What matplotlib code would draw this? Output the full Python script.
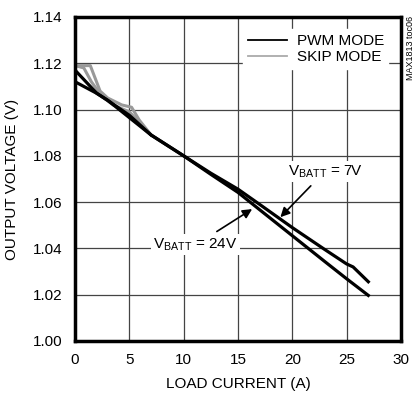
import matplotlib.pyplot as plt
from matplotlib.lines import Line2D

plt.rcParams['font.family'] = ['Liberation Sans', 'DejaVu Sans']
plt.rcParams['mathtext.fontset'] = 'custom'
plt.rcParams['mathtext.rm'] = 'Liberation Sans'

# PWM mode curves (black)
pwm7_x = [0, 1, 2, 3, 5, 7, 10, 12.5, 15, 17, 20, 23, 25, 25.6, 27]
pwm7_y = [1.112, 1.1095, 1.107, 1.104, 1.0975, 1.089, 1.080, 1.0725, 1.0656, 1.059, 1.049, 1.0395, 1.0333, 1.032, 1.0256]
pwm24_x = [0, 1, 2, 3, 5, 7, 10, 12.5, 15, 17, 20, 23, 25, 27]
pwm24_y = [1.117, 1.112, 1.107, 1.104, 1.0965, 1.089, 1.080, 1.072, 1.0642, 1.0567, 1.0455, 1.0343, 1.0269, 1.0197]

# SKIP mode curves (gray)
skipa_x = [0, 1.4, 2.3, 3.0, 4.3, 5.2, 5.9, 7]
skipa_y = [1.119, 1.119, 1.108, 1.105, 1.102, 1.101, 1.0955, 1.089]
skipb_x = [0, 0.8, 1.5, 2.5, 3.5, 5, 6, 7]
skipb_y = [1.119, 1.118, 1.112, 1.1055, 1.102, 1.099, 1.094, 1.089]

xticks = [0, 5, 10, 15, 20, 25, 30]
yticks = [1.00, 1.02, 1.04, 1.06, 1.08, 1.10, 1.12, 1.14]

fig = plt.figure(figsize=(4.15, 4.0), dpi=100)
ax = fig.add_axes([0.181, 0.1475, 0.785, 0.81])

ax.plot(skipa_x, skipa_y, color='#999999', lw=2.2)
ax.plot(skipb_x, skipb_y, color='#999999', lw=2.2)
ax.plot(pwm7_x, pwm7_y, color='black', lw=2.3)
ax.plot(pwm24_x, pwm24_y, color='black', lw=2.3)

ax.set_xlim(0, 30)
ax.set_ylim(1.00, 1.14)
ax.set_xticks(xticks)
ax.set_yticks(yticks)
ax.set_xticklabels([str(t) for t in xticks])
ax.set_yticklabels([f'{t:.2f}' for t in yticks])
ax.tick_params(length=0, labelsize=11, pad=9)
ax.grid(True, color='#444444', lw=0.9)
ax.set_axisbelow(True)
for s in ax.spines.values():
    s.set_linewidth(2.5)

ax.set_xlabel('LOAD CURRENT (A)', fontsize=11, labelpad=7)
ax.set_ylabel('OUTPUT VOLTAGE (V)', fontsize=11, labelpad=10)

# legend
handles = [Line2D([], [], color='black', lw=1.3), Line2D([], [], color='#aaaaaa', lw=1.3)]
ax.legend(handles, ['PWM MODE', 'SKIP MODE'], loc='upper right', fontsize=11,
          frameon=True, framealpha=1, edgecolor='white', fancybox=False,
          handlelength=2.6, handletextpad=0.6, labelspacing=0.15,
          borderpad=0.3, bbox_to_anchor=(0.985, 0.985))

# annotations
bbox = dict(boxstyle='square,pad=0.15', fc='white', ec='none')
ax.annotate('$\\mathrm{V_{BATT}}$ = 7V', xy=(18.9, 1.0535), xytext=(23.0, 1.0733),
            fontsize=11, ha='center', va='center', bbox=bbox,
            arrowprops=dict(arrowstyle='-|>', color='black', lw=1.2, mutation_scale=14,
                            shrinkA=4, shrinkB=0))
ax.annotate('$\\mathrm{V_{BATT}}$ = 24V', xy=(16.3, 1.057), xytext=(11.1, 1.0415),
            fontsize=11, ha='center', va='center', bbox=bbox,
            arrowprops=dict(arrowstyle='-|>', color='black', lw=1.2, mutation_scale=14,
                            shrinkA=4, shrinkB=0))

fig.text(0.988, 0.88, 'MAX1813 toc06', rotation=90, fontsize=6.5, ha='center', va='center')

fig.savefig('out.png', dpi=100)
